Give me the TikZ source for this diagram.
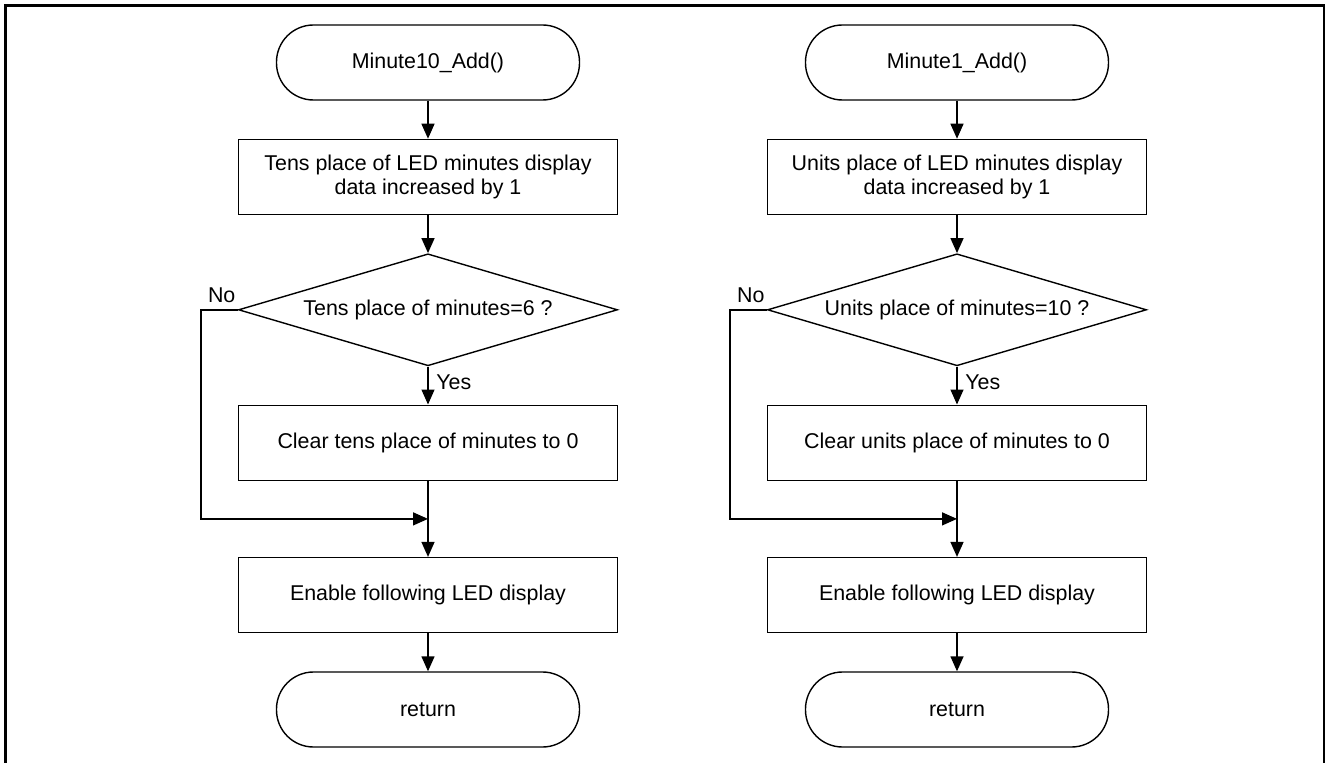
\documentclass[tikz,border=0pt]{standalone}
\usepackage{fontspec}
\setmainfont{Liberation Sans}
\usetikzlibrary{
  arrows.meta,
  positioning,
  shapes.geometric,
  calc
}
\tikzset{
  every node/.style={
    font=\fontsize{10.7pt}{12pt}\selectfont
  }
}
\tikzset{
  term/.style={
    rectangle,
    draw,
    rounded corners=18.5pt,
    minimum width=151.5pt,
    minimum height=37.5pt,
    line width=0.7pt
  }
}
\tikzset{
  proc/.style={
    rectangle,
    draw,
    align=center,
    minimum width=189.5pt,
    minimum height=37.5pt,
    line width=0.7pt
  }
}
\tikzset{
  decide/.style={
    diamond,
    draw,
    aspect=3.38,
    inner sep=0pt,
    minimum width=189.5pt,
    minimum height=56pt,
    line width=0.7pt
  }
}
\tikzset{
  flow/.style={
    ->,
    line width=0.7pt
  }
}

\begin{document}
\begin{tikzpicture}[>={Triangle[length=7.5pt,width=6.5pt]}, node distance=19pt]
  \useasboundingbox (0,0) rectangle (664pt,381pt);
  % frame
  \draw[line width=1.3pt] (2.75pt,-5pt) -- (2.75pt,378.25pt)
    -- (662pt,378.25pt) -- (662pt,-5pt);

  % Minute10_Add
  \node[term] (t1) at (214pt,349.75pt) {Minute10\_Add()};
  \node[proc, below=of t1] (b1) {Tens place of LED minutes display\\data increased by 1};
  \node[decide, below=of b1] (d1) {Tens place of minutes=6 ?};
  \node[proc, below=of d1] (b2) {Clear tens place of minutes to 0};
  \node[proc, below=38pt of b2] (b3) {Enable following LED display};
  \node[term, below=of b3] (t2) {return};
  \coordinate (m1) at ($(b2.south)!0.5!(b3.north)$);
  \node[anchor=south east, inner sep=1pt] (no1) at ($(d1.west)+(0,2.5pt)$) {No};
  \node[anchor=north west, inner sep=2pt, xshift=2pt, yshift=-2pt] (yes1) at (d1.south) {Yes};
  \draw[flow] (t1) -- (b1);
  \draw[flow] (b1) -- (d1);
  \draw[flow] (d1) -- (b2);
  \draw[flow] (b2) -- (b3);
  \draw[flow] (b3) -- (t2);
  \draw[flow] (d1.west) -- ++(-18.5pt,0) |- (m1);

  % Minute1_Add
  \node[term] (t3) at (478.5pt,349.75pt) {Minute1\_Add()};
  \node[proc, below=of t3] (b4) {Units place of LED minutes display\\data increased by 1};
  \node[decide, below=of b4] (d2) {Units place of minutes=10 ?};
  \node[proc, below=of d2] (b5) {Clear units place of minutes to 0};
  \node[proc, below=38pt of b5] (b6) {Enable following LED display};
  \node[term, below=of b6] (t4) {return};
  \coordinate (m2) at ($(b5.south)!0.5!(b6.north)$);
  \node[anchor=south east, inner sep=1pt] (no2) at ($(d2.west)+(0,2.5pt)$) {No};
  \node[anchor=north west, inner sep=2pt, xshift=2pt, yshift=-2pt] (yes2) at (d2.south) {Yes};
  \draw[flow] (t3) -- (b4);
  \draw[flow] (b4) -- (d2);
  \draw[flow] (d2) -- (b5);
  \draw[flow] (b5) -- (b6);
  \draw[flow] (b6) -- (t4);
  \draw[flow] (d2.west) -- ++(-18.5pt,0) |- (m2);
\end{tikzpicture}
\end{document}
